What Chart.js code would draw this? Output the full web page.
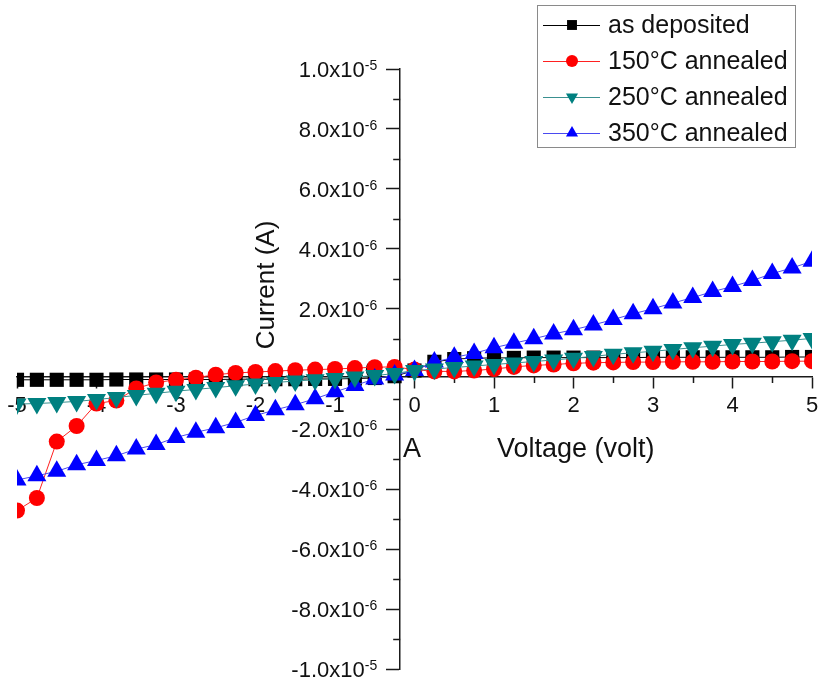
<!DOCTYPE html>
<html>
<head>
<meta charset="utf-8">
<title>I-V curves</title>
<script src="https://cdn.jsdelivr.net/npm/chart.js@4.4.0/dist/chart.umd.min.js"></script>
<style>
  html, body { margin: 0; padding: 0; background: #fff; }
  #wrap { width: 823px; height: 683px; }
</style>
</head>
<body>
<div id="wrap"><canvas id="iv" width="823" height="683"></canvas></div>
<script>
/* ------------------------------------------------------------
   Data (voltage in V, current in A)
   ------------------------------------------------------------ */
const voltage = [
  -5, -4.75, -4.5, -4.25, -4, -3.75, -3.5, -3.25, -3, -2.75, -2.5, -2.25, -2, -1.75, -1.5, -1.25, -1, -0.75, -0.5, -0.25,
  0, 0.25, 0.5, 0.75, 1, 1.25, 1.5, 1.75, 2, 2.25, 2.5, 2.75, 3, 3.25, 3.5, 3.75, 4, 4.25, 4.5, 4.75, 5
];

const asDeposited = [
  -0.36e-6, -0.36e-6, -0.36e-6, -0.36e-6, -0.36e-6, -0.35e-6, -0.35e-6, -0.35e-6, -0.35e-6, -0.35e-6,
  -0.35e-6, -0.34e-6, -0.34e-6, -0.34e-6, -0.34e-6, -0.33e-6, -0.33e-6, -0.32e-6, -0.30e-6, -0.24e-6,
  -0.05e-6, 0.24e-6, 0.33e-6, 0.36e-6, 0.37e-6, 0.37e-6, 0.38e-6, 0.38e-6, 0.38e-6, 0.38e-6,
  0.38e-6, 0.38e-6, 0.39e-6, 0.39e-6, 0.39e-6, 0.39e-6, 0.39e-6, 0.39e-6, 0.39e-6, 0.40e-6, 0.40e-6
];

const annealed150 = [
  -4.72e-6, -4.30e-6, -2.42e-6, -1.90e-6, -1.15e-6, -1.05e-6, -0.65e-6, -0.45e-6, -0.36e-6, -0.29e-6,
  -0.19e-6, -0.13e-6, -0.10e-6, -0.07e-6, -0.04e-6, -0.02e-6, 0.00e-6, 0.03e-6, 0.06e-6, 0.07e-6,
  -0.02e-6, -0.08e-6, -0.08e-6, -0.05e-6, 0.00e-6, 0.07e-6, 0.12e-6, 0.15e-6, 0.19e-6, 0.21e-6,
  0.22e-6, 0.23e-6, 0.23e-6, 0.24e-6, 0.24e-6, 0.24e-6, 0.25e-6, 0.25e-6, 0.25e-6, 0.26e-6, 0.26e-6
];

const annealed250 = [
  -1.17e-6, -1.15e-6, -1.12e-6, -1.08e-6, -1.02e-6, -0.95e-6, -0.88e-6, -0.81e-6, -0.74e-6, -0.68e-6,
  -0.62e-6, -0.56e-6, -0.50e-6, -0.45e-6, -0.40e-6, -0.36e-6, -0.32e-6, -0.27e-6, -0.22e-6, -0.15e-6,
  -0.05e-6, 0.00e-6, 0.05e-6, 0.10e-6, 0.15e-6, 0.20e-6, 0.25e-6, 0.30e-6, 0.36e-6, 0.42e-6,
  0.49e-6, 0.54e-6, 0.59e-6, 0.65e-6, 0.71e-6, 0.76e-6, 0.82e-6, 0.86e-6, 0.91e-6, 0.96e-6, 1.02e-6
];

const annealed350 = [
  -3.70e-6, -3.56e-6, -3.41e-6, -3.19e-6, -3.05e-6, -2.89e-6, -2.67e-6, -2.52e-6, -2.28e-6, -2.11e-6,
  -1.96e-6, -1.78e-6, -1.55e-6, -1.36e-6, -1.19e-6, -0.99e-6, -0.76e-6, -0.55e-6, -0.33e-6, -0.20e-6,
  -0.05e-6, 0.23e-6, 0.39e-6, 0.52e-6, 0.71e-6, 0.86e-6, 1.01e-6, 1.17e-6, 1.31e-6, 1.47e-6,
  1.65e-6, 1.84e-6, 2.01e-6, 2.20e-6, 2.38e-6, 2.58e-6, 2.75e-6, 2.95e-6, 3.18e-6, 3.37e-6, 3.59e-6
];

const seriesNames = ['as deposited', '150°C annealed', '250°C annealed', '350°C annealed'];

// tick labels
const xTickValues = [-5, -4, -3, -2, -1, 0, 1, 2, 3, 4, 5];
const xTickLabels = ['-5', '-4', '-3', '-2', '-1', '0', '1', '2', '3', '4', '5'];
const xMinorValues = [-4.5, -3.5, -2.5, -1.5, -0.5, 0.5, 1.5, 2.5, 3.5, 4.5];
const yTickValues = [1e-5, 8e-6, 6e-6, 4e-6, 2e-6, 0, -2e-6, -4e-6, -6e-6, -8e-6, -1e-5];
const yTickLabels = [
  ['1.0x10', '-5'], ['8.0x10', '-6'], ['6.0x10', '-6'], ['4.0x10', '-6'], ['2.0x10', '-6'], ['0.0', ''],
  ['-2.0x10', '-6'], ['-4.0x10', '-6'], ['-6.0x10', '-6'], ['-8.0x10', '-6'], ['-1.0x10', '-5']
];
const yMinorValues = [9e-6, 7e-6, 5e-6, 3e-6, 1e-6, -1e-6, -3e-6, -5e-6, -7e-6, -9e-6];

// where the two axes cross (Origin placed them slightly off zero)
const X_AXIS_AT = -0.27e-6;
const Y_AXIS_AT = -0.18;

const FONT = 'Arial, "Liberation Sans", sans-serif';
const AXIS_COLOR = '#1a1a1a';

function pairs(ys) {
  return voltage.map((v, i) => ({ x: v, y: ys[i] }));
}

/* ------------------------------------------------------------
   Plugin : tick labels, minor ticks, axis titles
   ------------------------------------------------------------ */
const axisDecor = {
  id: 'axisDecor',
  beforeDatasetsDraw(chart) {
    const { ctx, scales: { x, y } } = chart;
    const axisY = y.getPixelForValue(X_AXIS_AT);
    const axisX = x.getPixelForValue(Y_AXIS_AT);
    ctx.save();

    // minor ticks
    ctx.strokeStyle = AXIS_COLOR;
    ctx.lineWidth = 1.5;
    ctx.beginPath();
    xMinorValues.forEach(v => {
      const px = Math.round(x.getPixelForValue(v)) + 0.5;
      ctx.moveTo(px, axisY);
      ctx.lineTo(px, axisY + 6);
    });
    yMinorValues.forEach(v => {
      const py = Math.round(y.getPixelForValue(v)) + 0.5;
      ctx.moveTo(axisX, py);
      ctx.lineTo(axisX - 7, py);
    });
    ctx.stroke();

    ctx.fillStyle = '#111';

    // x tick labels
    ctx.font = '22px ' + FONT;
    ctx.textAlign = 'center';
    ctx.textBaseline = 'alphabetic';
    xTickValues.forEach((v, i) => {
      ctx.fillText(xTickLabels[i], x.getPixelForValue(v), axisY + 35);
    });

    // y tick labels with superscript exponent
    ctx.textAlign = 'right';
    yTickValues.forEach((v, i) => {
      const py = y.getPixelForValue(v);
      const [mant, expo] = yTickLabels[i];
      const right = axisX - 23;
      let ew = 0;
      if (expo) {
        ctx.font = '14px ' + FONT;
        ew = ctx.measureText(expo).width;
        ctx.fillText(expo, right, py + 1);
      }
      ctx.font = '22px ' + FONT;
      ctx.fillText(mant, right - ew, py + 8);
    });

    // axis titles
    ctx.font = '27px ' + FONT;
    ctx.textAlign = 'left';
    ctx.fillText('A', 403, 457);
    ctx.fillText('Voltage (volt)', 497, 457);

    ctx.save();
    ctx.translate(274, 285);
    ctx.rotate(-Math.PI / 2);
    ctx.textAlign = 'center';
    ctx.font = '26px ' + FONT;
    ctx.fillText('Current (A)', 0, 0);
    ctx.restore();

    ctx.restore();
  }
};

/* ------------------------------------------------------------
   Plugin : boxed legend (line + marker like Origin)
   ------------------------------------------------------------ */
const boxLegend = {
  id: 'boxLegend',
  afterDraw(chart) {
    const { ctx } = chart;
    const left = 537, top = 5, w = 258, h = 142;
    ctx.save();
    ctx.fillStyle = '#fff';
    ctx.fillRect(left, top, w, h);
    ctx.strokeStyle = '#8a8a8a';
    ctx.lineWidth = 1;
    ctx.strokeRect(left + 0.5, top + 0.5, w, h);

    const legendRadius = [7, 6, 7, 7];
    chart.data.datasets.forEach((ds, i) => {
      const cy = top + 20 + i * 36;
      ctx.strokeStyle = ds.borderColor;
      ctx.lineWidth = 1;
      ctx.beginPath();
      ctx.moveTo(543, cy + 0.5);
      ctx.lineTo(600, cy + 0.5);
      ctx.stroke();

      ctx.fillStyle = ds.pointBackgroundColor;
      Chart.helpers.drawPoint(ctx, {
        pointStyle: ds.pointStyle,
        rotation: ds.pointRotation || 0,
        radius: legendRadius[i],
        borderWidth: 0
      }, 572, cy);

      ctx.fillStyle = '#111';
      ctx.font = '25px ' + FONT;
      ctx.textAlign = 'left';
      ctx.textBaseline = 'middle';
      ctx.fillText(ds.label, 608, cy + 1);
    });
    ctx.restore();
  }
};

/* ------------------------------------------------------------
   Chart
   ------------------------------------------------------------ */
const axisStyle = {
  border: { display: true, color: AXIS_COLOR, width: 1.5 },
  grid: { display: true, drawOnChartArea: false, drawTicks: true, tickColor: AXIS_COLOR, tickWidth: 1.5 },
};

new Chart(document.getElementById('iv'), {
  type: 'scatter',
  data: {
    datasets: [
      {
        label: seriesNames[0], data: pairs(asDeposited), order: 4,
        borderColor: '#000000', pointBackgroundColor: '#000000',
        pointStyle: 'rect', pointRadius: 10
      },
      {
        label: seriesNames[1], data: pairs(annealed150), order: 3,
        borderColor: '#ff2020', pointBackgroundColor: '#ff0000',
        pointStyle: 'circle', pointRadius: 8
      },
      {
        label: seriesNames[2], data: pairs(annealed250), order: 1,
        borderColor: '#3a9090', pointBackgroundColor: '#008080',
        pointStyle: 'triangle', pointRotation: 180, pointRadius: 11
      },
      {
        label: seriesNames[3], data: pairs(annealed350), order: 2,
        borderColor: '#4a4af0', pointBackgroundColor: '#0000ff',
        pointStyle: 'triangle', pointRadius: 11
      }
    ].map(ds => Object.assign({
      showLine: true,
      borderWidth: 1,
      pointBorderWidth: 0,
      pointHoverRadius: 0,
      tension: 0
    }, ds))
  },
  options: {
    responsive: false,
    animation: false,
    events: [],
    layout: { padding: { left: 17, right: 6, top: 69, bottom: 14 } },
    plugins: {
      legend: { display: false },
      title: { display: false },
      tooltip: { enabled: false }
    },
    scales: {
      x: {
        type: 'linear',
        min: -5, max: 5,
        position: { y: X_AXIS_AT },
        ...axisStyle,
        grid: { ...axisStyle.grid, tickLength: 11 },
        ticks: { display: false, stepSize: 1, autoSkip: false }
      },
      y: {
        type: 'linear',
        min: -1e-5, max: 1e-5,
        position: { x: Y_AXIS_AT },
        ...axisStyle,
        grid: { ...axisStyle.grid, tickLength: 13 },
        ticks: { display: false, stepSize: 2e-6, autoSkip: false }
      }
    }
  },
  plugins: [axisDecor, boxLegend]
});
</script>
</body>
</html>
